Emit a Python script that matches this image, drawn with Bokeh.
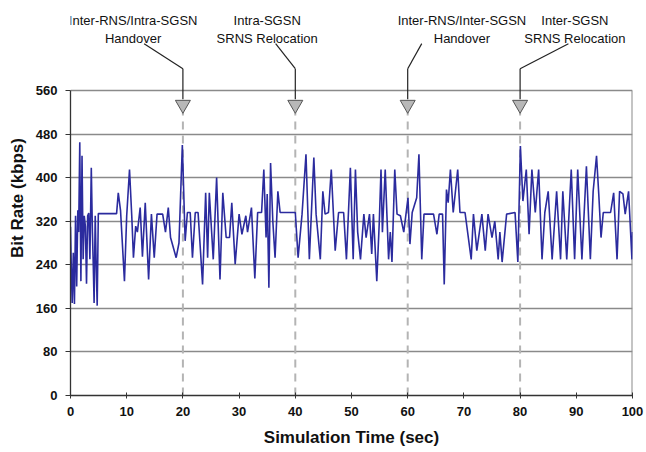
from bokeh.plotting import figure
from bokeh.models import Range1d, FixedTicker, Label
from bokeh.embed import file_html
from bokeh.resources import INLINE

# ---------------- data ----------------
time_s = [0.0, 0.15, 0.3, 0.5, 0.7, 0.9, 1.1, 1.3, 1.45, 1.65, 1.85, 2.05, 2.25, 2.45, 2.65, 2.85,
          3.05, 3.25, 3.45, 3.7, 3.9, 4.05, 4.2, 4.4, 4.55, 4.75, 4.95, 8.2, 8.5, 8.9, 9.6, 10.0,
          10.5, 10.9, 11.2, 11.6, 11.9, 12.4, 12.8, 13.3, 13.9, 14.4, 14.9, 15.4, 16.4, 16.9, 17.4,
          17.8, 18.8, 19.3, 19.9, 20.4, 20.8, 21.3, 21.7, 22.2, 22.7, 23.5, 24.05, 24.4, 24.7, 25.4,
          26.0, 26.6, 27.1, 27.7, 28.3, 28.7, 29.3, 30.0, 30.5, 31.2, 31.5, 32.2, 32.8, 33.3, 34.0,
          34.4, 34.8, 35.0, 35.3, 35.6, 36.0, 36.4, 36.9, 37.3, 40.0, 40.5, 41.2, 41.9, 42.5, 43.3,
          43.7, 44.45, 44.9, 45.3, 45.9, 46.4, 47.1, 47.7, 48.6, 49.1, 49.8, 50.3, 50.7, 51.1, 51.6,
          52.2, 52.6, 53.2, 53.6, 53.9, 54.5, 54.95, 55.25, 55.5, 56.0, 56.6, 56.9, 57.2, 57.7, 58.1,
          58.7, 59.3, 60.05, 60.4, 60.8, 61.6, 62.0, 62.5, 62.9, 64.6, 65.2, 65.6, 66.2, 66.5, 66.9,
          67.2, 67.6, 68.1, 68.9, 69.3, 70.2, 71.3, 71.7, 72.3, 73.2, 73.8, 74.3, 75.0, 75.5, 76.1,
          76.4, 76.8, 77.6, 79.1, 79.6, 80.05, 80.5, 81.1, 81.6, 82.1, 82.7, 83.3, 83.9, 84.4, 85.0,
          85.7, 86.5, 87.2, 87.6, 88.3, 89.1, 89.7, 90.25, 91.0, 91.8, 92.5, 93.0, 93.6, 94.0, 94.4,
          94.8, 96.1, 96.65, 97.25, 97.7, 98.3, 98.7, 99.3, 99.9, 100.0]
bit_rate = [310, 230, 170, 262, 168, 330, 200, 340, 300, 465, 210, 440, 250, 330, 310, 205,
            330, 335, 250, 418, 300, 240, 170, 330, 250, 165, 334, 334, 372, 340, 210, 330,
            415, 330, 253, 311, 300, 345, 255, 354, 213, 333, 253, 333, 333, 300, 345,
            290, 253, 280, 460, 284, 336, 336, 253, 336, 336, 204, 372, 253, 372, 250,
            400, 213, 372, 290, 290, 354, 241, 333, 296, 330, 300, 345, 215, 336, 336,
            415, 290, 370, 198, 427, 320, 253, 375, 336, 336, 253, 333, 443, 250, 437,
            333, 250, 375, 333, 336, 415, 266, 336, 336, 250, 418, 250, 415, 300, 250,
            333, 290, 333, 260, 333, 210, 320, 415, 300, 415, 250, 300, 245, 415, 333,
            330, 300, 363, 278, 336, 363, 443, 250, 333, 333, 296, 333, 333, 204, 378,
            354, 415, 336, 415, 336, 336, 250, 333, 266, 333, 266, 333, 290, 320, 250,
            300, 245, 333, 336, 245, 458, 357, 415, 296, 415, 336, 415, 250, 336, 375,
            250, 375, 250, 375, 250, 415, 250, 415, 250, 421, 250, 375, 440, 369, 290,
            336, 336, 372, 250, 375, 370, 333, 375, 250, 300]

event_times = [20, 40, 60, 80]
event_line1 = ["Inter-RNS/Intra-SGSN", "Intra-SGSN", "Inter-RNS/Inter-SGSN", "Inter-SGSN"]
event_line2 = ["Handover", "SRNS Relocation", "Handover", "SRNS Relocation"]

x_ticks = list(range(0, 101, 10))
y_ticks = list(range(0, 561, 80))

# ---------------- layout / style constants ----------------
Y_MAX = 560
Y_TOP = Y_MAX * 395 / 305          # head-room above the plot for the annotations
text_dx = [-8.85, -5.0, 9.65, 9.75]
lead_dx = [-6.9, -3.5, 2.5, 8.6]
LINE1_Y, LINE2_Y = 688, 655
LEAD_TOP, LEAD_KNEE, TRI_Y = 646, 600, 534

p = figure(width=646, height=452, x_range=Range1d(0, 100), y_range=Range1d(0, Y_TOP),
           output_backend="svg", toolbar_location=None,
           min_border_left=70, min_border_right=14, min_border_top=0, min_border_bottom=57)
p.outline_line_color = None
p.background_fill_color = "white"

p.xgrid.visible = False
p.ygrid.ticker = FixedTicker(ticks=y_ticks)
p.ygrid.grid_line_color = "#8a8a8a"
p.ygrid.grid_line_width = 1.4

font = "Liberation Sans"
for ax in (p.xaxis, p.yaxis):
    ax.axis_line_color = "#333333"
    ax.axis_line_width = 1.3
    ax.major_tick_line_color = "#333333"
    ax.minor_tick_line_color = None
    ax.major_label_text_font = font
    ax.major_label_text_font_style = "bold"
    ax.major_label_text_font_size = "13px"
    ax.major_label_text_color = "#111111"
    ax.axis_label_text_font = font
    ax.axis_label_text_font_style = "bold"
    ax.axis_label_text_color = "#111111"
    ax.axis_label_text_font_size = "17px"
p.xaxis.ticker = FixedTicker(ticks=x_ticks)
p.yaxis.ticker = FixedTicker(ticks=y_ticks)
p.yaxis.bounds = (0, Y_MAX)
p.xaxis.major_tick_in = 3
p.xaxis.major_tick_out = 3
p.yaxis.major_tick_in = 0
p.yaxis.major_tick_out = 5
p.xaxis.major_label_standoff = 8
p.yaxis.major_label_standoff = 8
p.xaxis.axis_label = "Simulation Time (sec)"
p.yaxis.axis_label = "Bit Rate (kbps)"
p.xaxis.axis_label_standoff = 9
p.yaxis.axis_label_standoff = 6

# right border of the plot area
p.segment(x0=[100], y0=[0], x1=[100], y1=[Y_MAX], line_color="#8a8a8a", line_width=2)

# dashed event lines
p.segment(x0=event_times, y0=[0] * 4, x1=event_times, y1=[TRI_Y - 14] * 4,
          line_color="#b4b4b4", line_width=2, line_dash="8 6")

# data line
p.line(time_s, bit_rate, line_color="#2b2b9e", line_width=1.6)

# leader lines
p.segment(x0=[t + d for t, d in zip(event_times, lead_dx)], y0=[LEAD_TOP] * 4,
          x1=event_times, y1=[LEAD_KNEE] * 4, line_color="#222222", line_width=1.2)
p.segment(x0=event_times, y0=[LEAD_KNEE] * 4, x1=event_times, y1=[TRI_Y + 10] * 4,
          line_color="#222222", line_width=1.2)

# triangles
p.scatter(event_times, [TRI_Y] * 4, marker="inverted_triangle", size=15,
          fill_color="#b8b8b8", line_color="#555555", line_width=1)

# annotation texts
for t, d, l1, l2 in zip(event_times, text_dx, event_line1, event_line2):
    for yy, txt in ((LINE1_Y, l1), (LINE2_Y, l2)):
        p.add_layout(Label(x=t + d, y=yy, text=txt, text_align="center",
                           text_baseline="middle", text_font=font,
                           text_font_size="13px", text_color="#111111"))

open("out.html", "w").write(file_html(p, INLINE))
